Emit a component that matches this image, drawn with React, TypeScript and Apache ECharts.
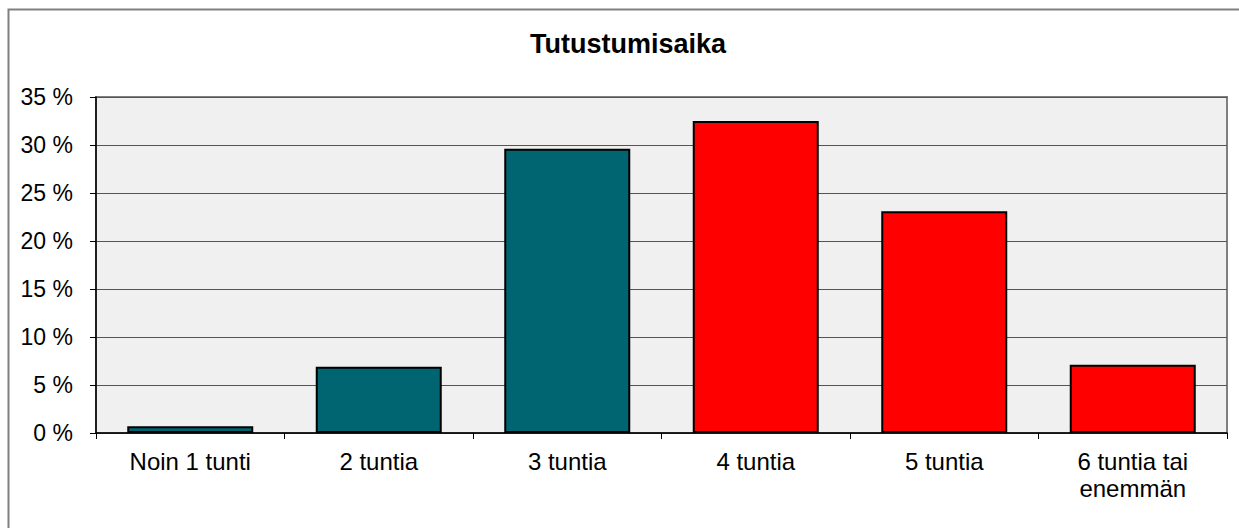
import React, { useEffect, useRef } from "react";
import * as echarts from "echarts";

const categories: string[] = ["Noin 1 tunti", "2 tuntia", "3 tuntia", "4 tuntia", "5 tuntia", "6 tuntia tai\nenemmän"];
const values: number[] = [0.7, 6.9, 29.6, 32.5, 23.1, 7.1];
const barColors: string[] = ["#006571", "#006571", "#006571", "#ff0000", "#ff0000", "#ff0000"];
const titleText = "Tutustumisaika";
const yMin = 0;
const yMax = 35;
const yStep = 5;

const FONT = "'Liberation Sans', Arial, sans-serif";

export default function App() {
  const ref = useRef<HTMLDivElement>(null);
  useEffect(() => {
    if (!ref.current) return;
    const chart = echarts.init(ref.current, undefined, { renderer: "svg" });
    chart.setOption({
      animation: false,
      backgroundColor: "#ffffff",
      textStyle: { fontFamily: FONT },
      title: {
        text: titleText,
        left: 623,
        textAlign: "center",
        top: 25,
        textStyle: { fontFamily: FONT, fontSize: 27, fontWeight: "bold", color: "#000" },
      },
      graphic: [
        {
          type: "polyline",
          shape: { points: [[8.5, 528], [8.5, 9.5], [1239, 9.5]] },
          style: { stroke: "#808080", lineWidth: 2, fill: null },
          silent: true,
        },
      ],
      grid: {
        left: 96,
        top: 97,
        right: 12,
        bottom: 95,
        show: true,
        backgroundColor: "#f0f0f0",
        borderColor: "#808080",
        borderWidth: 2,
      },
      xAxis: {
        type: "category",
        data: categories,
        boundaryGap: true,
        axisLine: { show: true, lineStyle: { color: "#000", width: 1.5 } },
        axisTick: { show: true, length: 6, alignWithLabel: false, lineStyle: { color: "#000" } },
        axisLabel: {
          color: "#000",
          fontFamily: FONT,
          fontSize: 24,
          lineHeight: 27,
          margin: 15,
          interval: 0,
        },
        splitLine: { show: false },
      },
      yAxis: {
        type: "value",
        min: yMin,
        max: yMax,
        interval: yStep,
        axisLine: { show: true, lineStyle: { color: "#000", width: 1.5 } },
        axisTick: { show: true, length: 6, lineStyle: { color: "#000" } },
        axisLabel: {
          color: "#000",
          fontFamily: FONT,
          fontSize: 23,
          margin: 23,
          formatter: "{value} %",
        },
        splitLine: { show: true, lineStyle: { color: "#555", width: 1 } },
      },
      series: [
        {
          type: "bar",
          barWidth: 126,
          data: values.map((v, i) => ({
            value: v,
            itemStyle: { color: barColors[i], borderColor: "#000", borderWidth: 2 },
          })),
        },
      ],
    });
    return () => chart.dispose();
  }, []);
  return (
    <div
      ref={ref}
      style={{ position: "absolute", left: 0, top: 0, width: 1239, height: 528 }}
    />
  );
}
